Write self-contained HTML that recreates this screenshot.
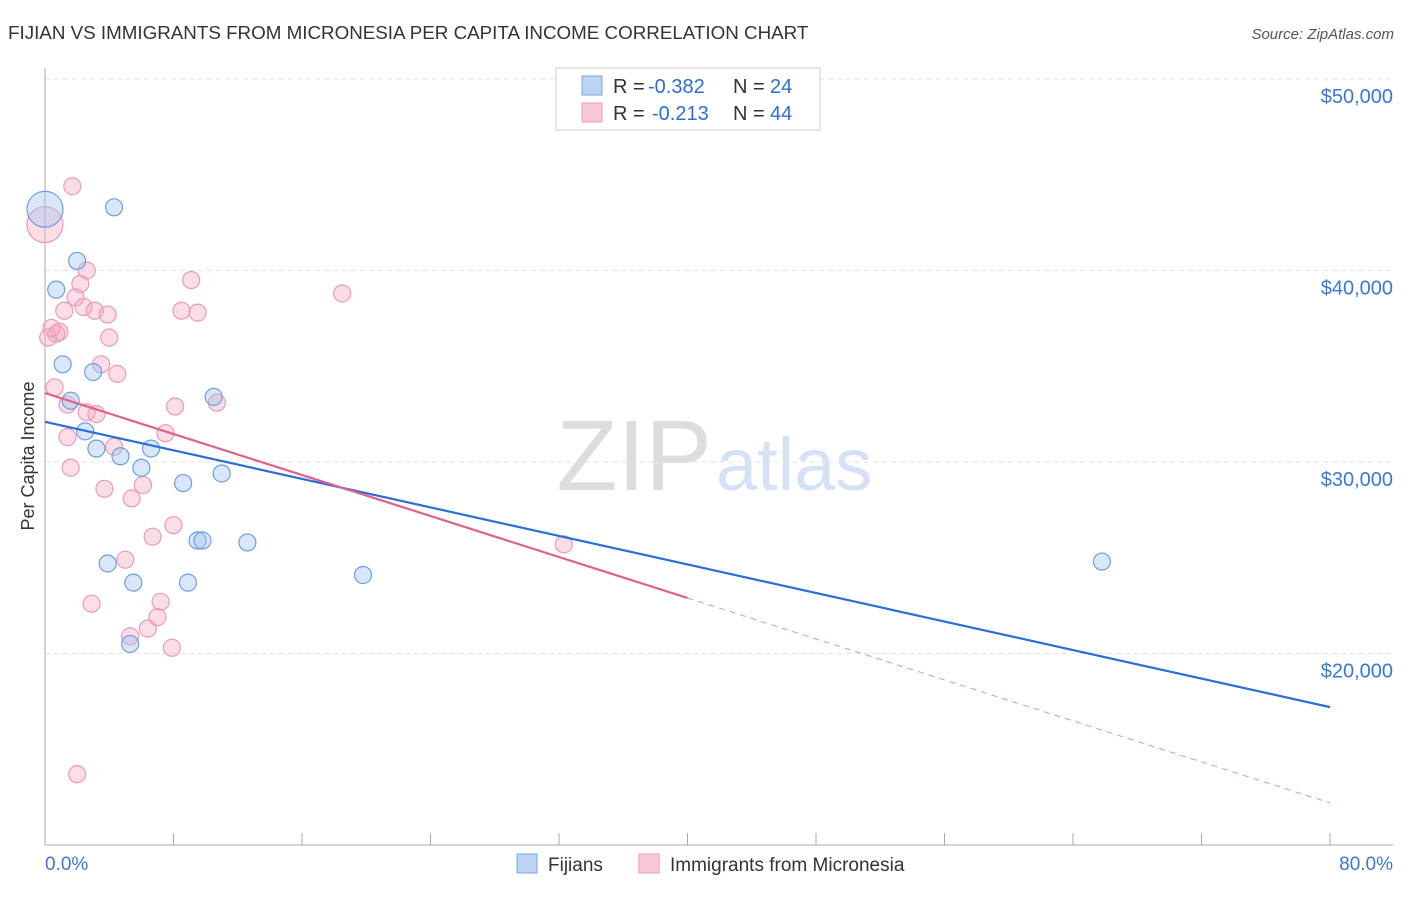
<!DOCTYPE html>
<html><head><meta charset="utf-8"><style>
body{margin:0;background:#fff;font-family:"Liberation Sans",sans-serif;}
svg text{font-family:"Liberation Sans",sans-serif;}
</style></head><body>
<svg id="chart" width="1406" height="892">
<text x="8" y="39" font-size="18.8" fill="#333">FIJIAN VS IMMIGRANTS FROM MICRONESIA PER CAPITA INCOME CORRELATION CHART</text>
<text x="1394" y="39" font-size="15" fill="#555" font-style="italic" text-anchor="end">Source: ZipAtlas.com</text>
<text x="712" y="490" font-size="100" fill="#ddd" text-anchor="end" font-family="Liberation Serif">ZIP</text>
<text x="716" y="490" font-size="74" fill="#d5e2f5">atlas</text>
<g id="grid"></g><g id="axes"></g><g id="pts"></g><g id="lines"></g>
<text transform="translate(34,456) rotate(-90)" font-size="18" fill="#333" text-anchor="middle">Per Capita Income</text>
<g>
<rect x="556" y="68" width="264" height="62" fill="#fff" stroke="#ccc"/>
<rect x="582" y="76" width="20" height="19" fill="#bcd3f3" stroke="#7aa7e6"/>
<text x="613" y="93" font-size="20" fill="#333">R =</text>
<text x="648" y="93" font-size="20" fill="#2a6fd6">-0.382</text>
<text x="733" y="93" font-size="20" fill="#333">N =</text>
<text x="770" y="93" font-size="20" fill="#2a6fd6">24</text>
<rect x="582" y="103" width="20" height="19" fill="#f8c8d8" stroke="#ec9ab6"/>
<text x="613" y="120" font-size="20" fill="#333">R =</text>
<text x="652" y="120" font-size="20" fill="#2a6fd6">-0.213</text>
<text x="733" y="120" font-size="20" fill="#333">N =</text>
<text x="770" y="120" font-size="20" fill="#2a6fd6">44</text>
</g>
<g>
<rect x="517" y="854" width="20" height="19" fill="#bcd3f3" stroke="#7aa7e6"/>
<text x="548" y="871" font-size="19" fill="#333">Fijians</text>
<rect x="639" y="854" width="20" height="19" fill="#f8c8d8" stroke="#ec9ab6"/>
<text x="670" y="871" font-size="19" fill="#333">Immigrants from Micronesia</text>
</g>
</svg>
<script>
const yTicks=[20000,30000,40000,50000];
const yTickLabels=["$20,000","$30,000","$40,000","$50,000"];
const fijiX=[0,4.3,2.0,0.7,1.1,3.0,1.6,2.5,3.2,4.7,6.6,6.0,8.6,10.5,11.0,9.5,9.8,12.6,3.9,5.5,8.9,19.8,5.3,65.8];
const fijiY=[43200,43300,40500,39000,35100,34700,33200,31600,30700,30300,30700,29700,28900,33400,29400,25900,25900,25800,24700,23700,23700,24100,20500,24800];
const fijiBig=[1,0,0,0,0,0,0,0,0,0,0,0,0,0,0,0,0,0,0,0,0,0,0,0];
const micX=[0,1.7,2.6,2.2,1.9,1.2,2.4,3.1,3.9,0.9,0.2,4.0,3.5,4.5,0.6,1.4,2.6,3.2,10.7,8.1,7.5,1.4,4.3,1.6,3.7,5.4,6.1,8.0,6.7,5.0,2.9,7.2,7.0,6.4,5.3,7.9,2.0,9.1,8.5,9.5,18.5,32.3,0.7,0.4];
const micY=[42400,44400,40000,39300,38600,37900,38100,37900,37700,36800,36500,36500,35100,34600,33900,33000,32600,32500,33100,32900,31500,31300,30800,29700,28600,28100,28800,26700,26100,24900,22600,22700,21900,21300,20900,20300,13700,39500,37900,37800,38800,25700,36700,37000];
const micBig=[1,0,0,0,0,0,0,0,0,0,0,0,0,0,0,0,0,0,0,0,0,0,0,0,0,0,0,0,0,0,0,0,0,0,0,0,0,0,0,0,0,0,0,0];
const fijiTrend=[32100,17200];
const micTrend=[33600,12200];
const micSolidEnd=40;
const NS="http://www.w3.org/2000/svg";
const X=p=>45+p*(1285/80);
const Y=v=>79+(50000-v)*(191.5/10000);
function mk(tag,attrs,parent){const e=document.createElementNS(NS,tag);for(const k in attrs)e.setAttribute(k,attrs[k]);document.getElementById(parent).appendChild(e);return e;}
yTicks.forEach((t,i)=>{
 const l=mk('line',{x1:45,x2:1393,y1:Y(t),y2:Y(t),stroke:'#e3e3e3','stroke-dasharray':'5,4'},'grid');
 
 
 const tx=mk('text',{x:1393,y:Y(t)+24,'font-size':20,fill:'#3a78d6','text-anchor':'end'},'grid');
 tx.textContent=yTickLabels[i];
 
 
});
const ax=mk('line',{x1:45,x2:45,y1:68,y2:845,stroke:'#aaa'},'axes');


const bx=mk('line',{x1:45,x2:1393,y1:845,y2:845,stroke:'#aaa'},'axes');


for(let p=0;p<=80;p+=8){const t=mk('line',{x1:X(p),x2:X(p),y1:833,y2:845,stroke:'#aaa'},'axes');
 
 }
const xl=mk('text',{x:45,y:870,'font-size':19,fill:'#3a78d6'},'axes');xl.textContent='0.0%';


const xr=mk('text',{x:1393,y:870,'font-size':19,fill:'#3a78d6','text-anchor':'end'},'axes');xr.textContent='80.0%';


micX.forEach((x,i)=>{const c=mk('circle',{cx:X(x),cy:Y(micY[i]),r:micBig[i]?18:8.5,fill:'rgba(244,170,196,0.4)',stroke:'#ec9ab6','stroke-width':1.2},'pts');
 
 });
fijiX.forEach((x,i)=>{const c=mk('circle',{cx:X(x),cy:Y(fijiY[i]),r:fijiBig[i]?18:8.5,fill:'rgba(160,195,240,0.4)',stroke:'#6c9fe3','stroke-width':1.2},'pts');
 
 });
const fl=mk('line',{x1:X(0),y1:Y(fijiTrend[0]),x2:X(80),y2:Y(fijiTrend[1]),stroke:'#2a6fd6','stroke-width':2.2},'lines');


const mMid=micTrend[0]+(micTrend[1]-micTrend[0])*micSolidEnd/80;
const ml=mk('line',{x1:X(0),y1:Y(micTrend[0]),x2:X(micSolidEnd),y2:Y(mMid),stroke:'#e0608e','stroke-width':2.2},'lines');


const md=mk('line',{x1:X(micSolidEnd),y1:Y(mMid),x2:X(80),y2:Y(micTrend[1]),stroke:'#e890ad','stroke-width':1,'stroke-dasharray':'6,5'},'lines');


</script>
</body></html>
